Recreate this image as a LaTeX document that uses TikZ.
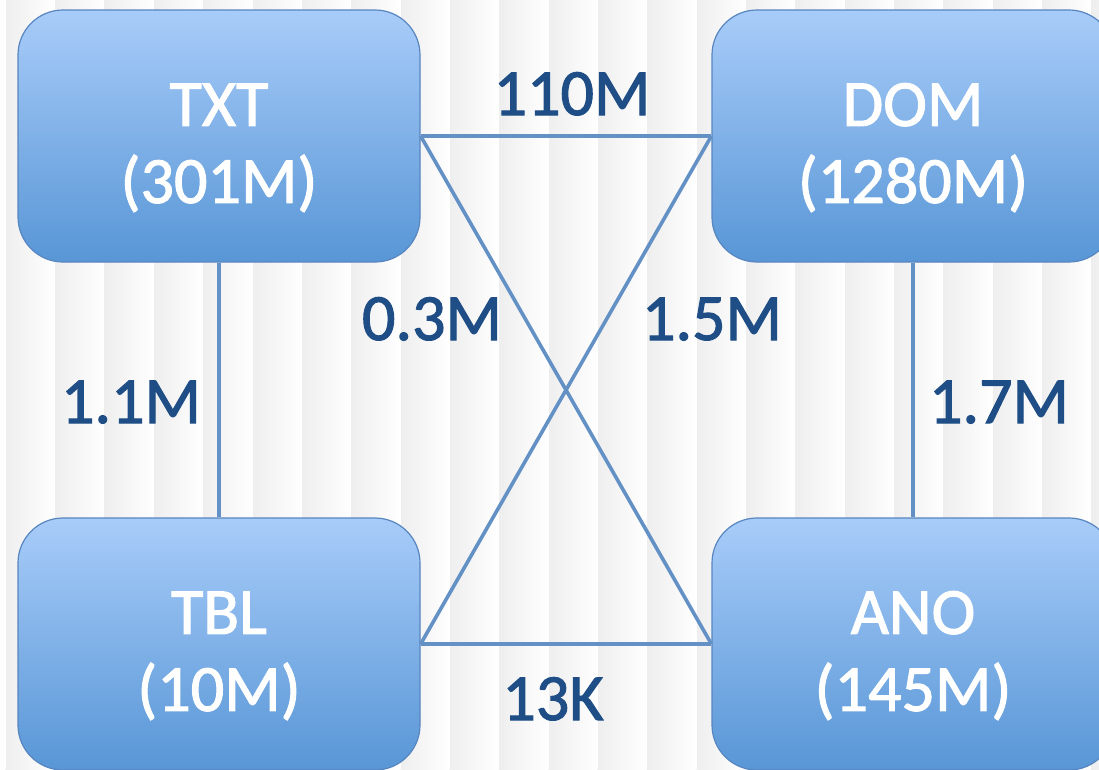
\documentclass[tikz,border=0pt]{standalone}
\usepackage{fontspec}
\setmainfont{Carlito}
\newfontfamily\heavycal[FakeBold=1.6]{Carlito}
\begin{document}
\begin{tikzpicture}[x=1pt,y=-1pt,
  box/.style={rounded corners=45pt, minimum width=402pt, minimum height=252pt,
    top color=boxtop, bottom color=boxbot, draw=boxedge, line width=1.2pt,
    text=white, align=center, font=\heavycal\fontsize{66}{77}\selectfont, inner sep=0pt},
  link/.style={draw=linkc, line width=3.6pt},
  lab/.style={text=labc, font=\heavycal\fontsize{66}{77}\selectfont, anchor=base, inner sep=0pt}]
\definecolor{boxtop}{HTML}{A8CCF9}
\definecolor{boxbot}{HTML}{5896D6}
\definecolor{boxedge}{HTML}{5886C0}
\definecolor{linkc}{HTML}{6491C5}
\definecolor{labc}{HTML}{1F4E86}
\definecolor{stripe}{HTML}{EEEEEE}
\useasboundingbox (0,0) rectangle (1099,769);
\clip (0,0) rectangle (1099,769);
\fill[white] (0,0) rectangle (1099,769);
\foreach \i in {-1,...,22} {
  \shade[left color=stripe, right color=white!97!stripe] (5+\i*49.35,0) rectangle (5+\i*49.35+49.35,769);
  \draw[white, line width=1.5pt] (5+\i*49.35,0) -- (5+\i*49.35,769);
}
\node[box] (txt) at (219,136) {\rule{0pt}{66pt}TXT\\(301M)};
\node[box] (dom) at (913,136) {\rule{0pt}{66pt}DOM\\(1280M)};
\node[box] (tbl) at (219,644) {\rule{0pt}{66pt}TBL\\(10M)};
\node[box] (ano) at (913,644) {\rule{0pt}{66pt}ANO\\(145M)};
\draw[link] (txt.east) -- (dom.west);
\draw[link] (tbl.east) -- (ano.west);
\draw[link] (txt.east) -- (ano.west);
\draw[link] (tbl.east) -- (dom.west);
\draw[link] (txt.south) -- (tbl.north);
\draw[link] (dom.south) -- (ano.north);
\node[lab] (l110) at (572,115) {110M};
\node[lab] (l11) at (131,423) {1.1M};
\node[lab] (l03) at (432,340) {0.3M};
\node[lab] (l15) at (712,340) {1.5M};
\node[lab] (l17) at (999,423) {1.7M};
\node[lab] (l13) at (553,720) {13K};
\end{tikzpicture}
\end{document}
